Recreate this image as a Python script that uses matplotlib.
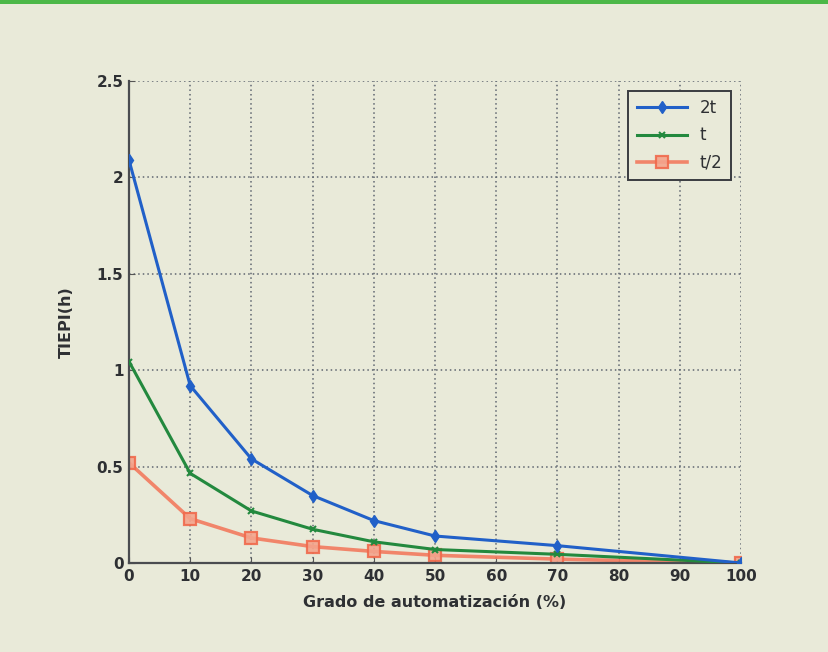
import matplotlib.pyplot as plt

automatizacion = [0, 10, 20, 30, 40, 50, 70, 100]
tiepi_2t = [2.09, 0.92, 0.54, 0.35, 0.22, 0.14, 0.09, 0.0]
tiepi_t = [1.045, 0.465, 0.27, 0.175, 0.11, 0.07, 0.045, 0.0]
tiepi_t2 = [0.52, 0.23, 0.13, 0.085, 0.06, 0.04, 0.02, 0.0]

x_ticks = list(range(0, 101, 10))
y_ticks = [0, 0.5, 1, 1.5, 2, 2.5]
y_tick_labels = ["0", "0.5", "1", "1.5", "2", "2.5"]

BG = "#e9ead9"
TEXT = "#2e3033"

fig = plt.figure(figsize=(8.29, 6.52), dpi=100, facecolor=BG)

# green band across the top
fig.patches.append(plt.Rectangle((0, 0.994), 1, 0.006, transform=fig.transFigure,
                                 facecolor="#4cb848", edgecolor="none"))

ax = fig.add_axes([0.1556, 0.1365, 0.7383, 0.7393])
ax.set_facecolor(BG)

ax.plot(automatizacion, tiepi_2t, color="#2160c8", lw=2.2, marker="d",
        markersize=6, label="2t", zorder=4)
ax.plot(automatizacion, tiepi_t, color="#23893e", lw=2.2, marker="x",
        markersize=5, mew=1.5, label="t", zorder=3)
ax.plot(automatizacion, tiepi_t2, color="#f27a5e", lw=2.6, marker="s",
        markersize=9, mfc="#f4a48c", mec="#f06a4c", mew=1.6, alpha=0.9,
        label="t/2", zorder=2)

ax.set_xlim(0, 100)
ax.set_ylim(0, 2.5)
ax.set_xticks(x_ticks)
ax.set_yticks(y_ticks)
ax.set_yticklabels(y_tick_labels)
ax.tick_params(direction="in", length=4, colors="#555555", labelcolor=TEXT,
               labelsize=11, pad=4)
for lbl in ax.get_xticklabels() + ax.get_yticklabels():
    lbl.set_fontweight("bold")

ax.grid(True, linestyle=(0, (1, 2)), color="#5f6670", lw=1.1)
for side in ("top", "right"):
    ax.spines[side].set_visible(False)
for side in ("left", "bottom"):
    ax.spines[side].set_color("#4a4c50")
    ax.spines[side].set_linewidth(1.6)

ax.set_xlabel("Grado de automatización (%)", fontsize=11.5, fontweight="bold",
              color=TEXT, labelpad=8)
ax.set_ylabel("TIEPI(h)", fontsize=11.5, fontweight="bold", color=TEXT,
              labelpad=16)

leg = ax.legend(loc="upper right", fontsize=12, frameon=True, fancybox=False,
                handlelength=3.0, borderaxespad=0.6, labelspacing=0.55,
                borderpad=0.5)
leg.get_frame().set_edgecolor("#3a3c40")
leg.get_frame().set_linewidth(1.4)
leg.get_frame().set_facecolor(BG)
leg.get_frame().set_alpha(1)
for t in leg.get_texts():
    t.set_color(TEXT)

fig.savefig("out.png", dpi=100, facecolor=BG)
